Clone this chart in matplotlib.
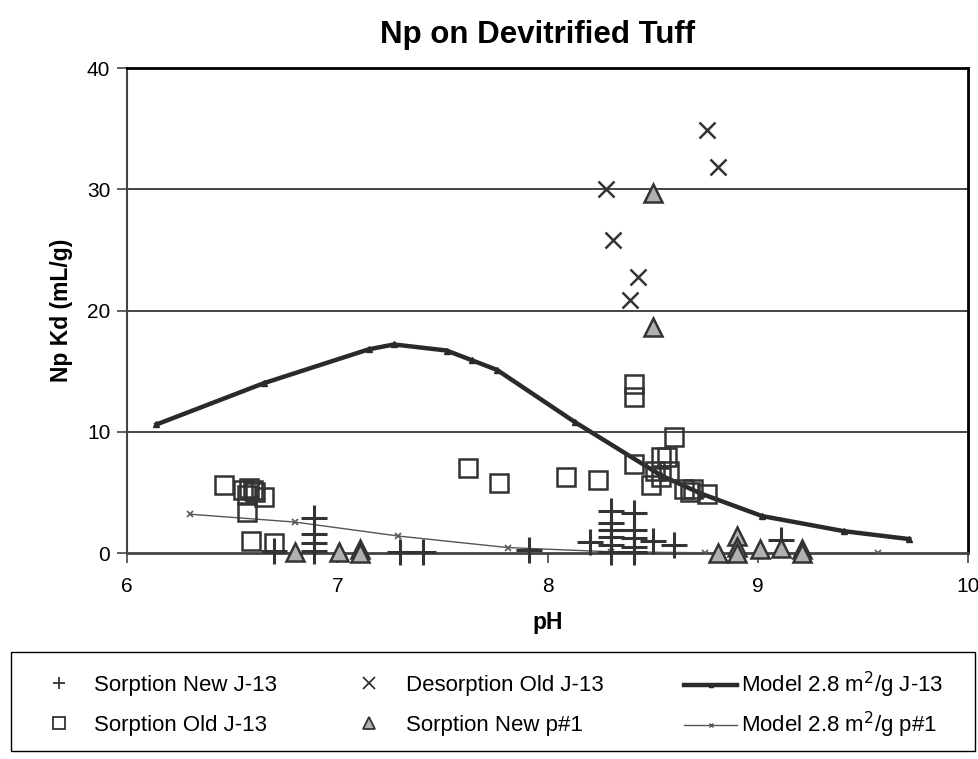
import numpy as np
import matplotlib.pyplot as plt
from matplotlib.lines import Line2D
from matplotlib.patches import Rectangle

plt.rcParams['font.family'] = ['Liberation Sans', 'DejaVu Sans']

# Sorption New J-13 (+)
new_j13_ph = [6.70, 6.89, 6.89, 6.89, 6.89, 7.30, 7.41, 7.91, 8.20,
              8.30, 8.30, 8.30, 8.30, 8.30, 8.30,
              8.41, 8.41, 8.41, 8.41, 8.41, 8.50, 8.60, 9.11]
new_j13_kd = [0.15, 2.9, 1.6, 0.8, 0.2, 0.1, 0.1, 0.25, 0.9,
              3.5, 2.5, 1.9, 1.3, 0.7, 0.1,
              3.3, 1.9, 1.2, 0.5, 0.1, 1.0, 0.65, 1.1]

# Sorption Old J-13 (squares)
old_j13_ph = [6.46, 6.55, 6.58, 6.60, 6.57, 6.61, 6.65, 6.57, 6.59, 6.70,
              7.62, 7.77, 8.09, 8.24, 8.41, 8.41, 8.60, 8.41, 8.54, 8.57,
              8.51, 8.58, 8.54, 8.49, 8.65, 8.69, 8.68, 8.76]
old_j13_kd = [5.6, 5.2, 5.4, 5.2, 4.8, 5.0, 4.6, 3.4, 1.0, 0.8,
              7.0, 5.8, 6.3, 6.0, 13.9, 12.9, 9.6, 7.3, 7.9, 7.9,
              6.8, 6.8, 6.3, 5.6, 5.3, 5.3, 5.0, 4.9]

# Desorption Old J-13 (x)
des_j13_ph = [8.76, 8.81, 8.28, 8.31, 8.43, 8.39]
des_j13_kd = [34.9, 31.8, 30.0, 25.8, 22.8, 20.9]

# Sorption New p#1 (triangles)
new_p1_ph = [8.50, 8.50, 6.80, 7.01, 7.11, 7.11, 8.81, 8.90, 8.90, 8.90,
             9.01, 9.11, 9.21, 9.21]
new_p1_kd = [29.7, 18.6, 0.1, 0.1, 0.3, 0.0, 0.0, 1.4, 0.5, 0.0,
             0.3, 0.4, 0.3, 0.0]

# Model curves
model_j13_ph = [6.14, 6.65, 7.15, 7.27, 7.52, 7.64, 7.76, 8.13, 8.54, 8.73,
                9.02, 9.41, 9.72]
model_j13_kd = [10.6, 14.0, 16.8, 17.2, 16.7, 15.9, 15.1, 10.8, 6.4, 4.9,
                3.05, 1.8, 1.15]
model_p1_ph = [6.30, 6.80, 7.29, 7.81, 8.30, 8.75, 9.57]
model_p1_kd = [3.2, 2.55, 1.4, 0.45, 0.1, 0.02, 0.0]

dark = '#333333'

fig = plt.figure(figsize=(9.79, 7.59), dpi=100)
ax = fig.add_axes([0.1297, 0.2714, 0.8591, 0.639])

for y in [10, 20, 30]:
    ax.axhline(y, color='#444444', lw=1.4, zorder=1)

l_mj = ax.plot(model_j13_ph, model_j13_kd, color='#2a2a2a', lw=3.2, marker='^',
               ms=4, zorder=3)[0]
l_mp = ax.plot(model_p1_ph, model_p1_kd, color='#555555', lw=1.0, marker='x',
               ms=4, mew=1.2, zorder=3)[0]
ax.plot(new_j13_ph, new_j13_kd, ls='none', marker='+', ms=19, mew=2.2,
        color=dark, zorder=4, clip_on=False)
ax.plot(old_j13_ph, old_j13_kd, ls='none', marker='s', ms=13, mew=1.8,
        mfc='none', mec=dark, zorder=4, clip_on=False)
ax.plot(des_j13_ph, des_j13_kd, ls='none', marker='x', ms=12, mew=1.8,
        color=dark, zorder=4, clip_on=False)
ax.plot(new_p1_ph, new_p1_kd, ls='none', marker='^', ms=13, mew=1.8,
        mfc='#b0b0b0', mec=dark, zorder=5, clip_on=False)

ax.set_xlim(6, 10)
ax.set_ylim(0, 40)
ax.set_xticks([6, 7, 8, 9, 10])
ax.set_yticks([0, 10, 20, 30, 40])
ax.tick_params(direction='out', length=7, width=1.2, color='#444444',
               labelsize=15)
ax.tick_params(axis='x', pad=10)
ax.tick_params(axis='y', pad=5)

ax.spines['left'].set_color('#444444')
ax.spines['bottom'].set_color('#444444')
ax.spines['left'].set_linewidth(1.5)
ax.spines['bottom'].set_linewidth(2)
ax.spines['top'].set_color('black')
ax.spines['right'].set_color('black')
ax.spines['top'].set_linewidth(2)
ax.spines['right'].set_linewidth(2)

ax.set_xlabel('pH', fontsize=16.5, fontweight='bold', labelpad=11)
ax.set_ylabel('Np Kd (mL/g)', fontsize=16.5, fontweight='bold', labelpad=10)
ax.set_title('Np on Devitrified Tuff', fontsize=22.5, fontweight='bold', pad=18,
             x=0.488)

# legend: three columns of two entries inside one box
mk = dict(ls='none', ms=9, mew=1.3, mec=dark, color=dark)
entries = [
    (Line2D([], [], marker='+', **mk), 'Sorption New J-13', 48, 685, 1.0, 1.08),
    (Line2D([], [], marker='s', mfc='none', **mk), 'Sorption Old J-13', 48, 725, 1.0, 1.08),
    (Line2D([], [], marker='x', **mk), 'Desorption Old J-13', 358, 685, 1.0, 1.17),
    (Line2D([], [], marker='^', mfc='#b0b0b0', **mk), 'Sorption New p#1', 358, 725, 1.0, 1.17),
    (Line2D([], [], color=l_mj.get_color(), lw=3.2, marker='^', ms=3),
     'Model 2.8 m$^2$/g J-13', 684, 685, 2.4, 0.18),
    (Line2D([], [], color=l_mp.get_color(), lw=1.0, marker='x', ms=3, mew=1),
     'Model 2.8 m$^2$/g p#1', 684, 725, 2.4, 0.18),
]
for h, lab, x0, y0, hl, htp in entries:
    fig.legend([h], [lab], loc='center left',
               bbox_to_anchor=(x0 / 979.0, 1 - y0 / 759.0),
               fontsize=16, frameon=False, borderpad=0, borderaxespad=0,
               handlelength=hl, handletextpad=htp)

fig.patches.append(Rectangle((11 / 979.0, 1 - 751 / 759.0), 964 / 979.0,
                             99 / 759.0, transform=fig.transFigure,
                             fill=False, edgecolor='black', lw=1.0))

fig.savefig('out.png', dpi=100)
